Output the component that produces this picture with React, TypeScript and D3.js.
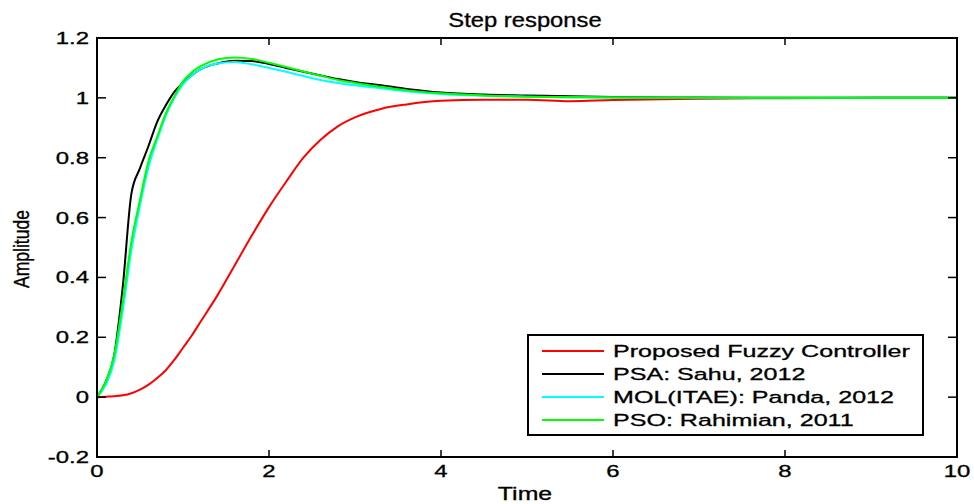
import React from "react";
import * as d3 from "d3";

// Sample times (s) shared by all responses
const times = [
  0, 0.1, 0.2, 0.3, 0.4, 0.5, 0.6, 0.7, 0.8, 0.9, 1.0, 1.1, 1.2, 1.4, 1.6, 1.8,
  2.0, 2.2, 2.4, 2.6, 2.8, 3.0, 3.3, 3.6, 4.0, 4.5, 5.0, 5.5, 6.0, 7.0, 8.0, 9.0, 10.0,
];

// Step responses of each controller
const fuzzy = [
  0, 0.001, 0.003, 0.006, 0.013, 0.025, 0.042, 0.064, 0.09, 0.125, 0.165, 0.205, 0.25, 0.34, 0.44, 0.54,
  0.635, 0.72, 0.8, 0.86, 0.905, 0.935, 0.963, 0.978, 0.99, 0.994, 0.994, 0.989, 0.993, 0.997, 0.999, 1.0, 1.0,
];
const psaSahu = [
  0, 0.05, 0.14, 0.37, 0.68, 0.765, 0.84, 0.92, 0.975, 1.02, 1.05, 1.075, 1.095, 1.115, 1.124, 1.123,
  1.113, 1.1, 1.087, 1.075, 1.063, 1.053, 1.042, 1.03, 1.018, 1.011, 1.008, 1.005, 1.003, 1.001, 1.0, 1.0, 1.0,
];
const molPanda = [
  0, 0.04, 0.12, 0.29, 0.49, 0.64, 0.77, 0.86, 0.94, 1.0, 1.045, 1.075, 1.095, 1.115, 1.12, 1.112,
  1.1, 1.087, 1.073, 1.06, 1.05, 1.042, 1.032, 1.022, 1.013, 1.007, 1.004, 1.002, 1.001, 1.0, 1.0, 1.0, 1.0,
];
const psoRahimian = [
  0, 0.05, 0.14, 0.32, 0.52, 0.66, 0.79, 0.87, 0.948, 1.005, 1.055, 1.085, 1.105, 1.128, 1.135, 1.13,
  1.117, 1.103, 1.088, 1.074, 1.06, 1.05, 1.037, 1.025, 1.015, 1.008, 1.004, 1.002, 1.001, 1.0, 1.0, 1.0, 1.0,
];

const seriesNames = [
  "Proposed Fuzzy Controller",
  "PSA: Sahu, 2012",
  "MOL(ITAE): Panda, 2012",
  "PSO: Rahimian, 2011",
];
const seriesColors = ["#ff0000", "#000000", "#00ffff", "#00ff00"];
const seriesValues = [fuzzy, psaSahu, molPanda, psoRahimian];

const xTicks = [0, 2, 4, 6, 8, 10];
const xTickLabels = ["0", "2", "4", "6", "8", "10"];
const yTicks = [-0.2, 0, 0.2, 0.4, 0.6, 0.8, 1.0, 1.2];
const yTickLabels = ["-0.2", "0", "0.2", "0.4", "0.6", "0.8", "1", "1.2"];

const W = 974;
const H = 504;
const plot = { left: 97, right: 957, top: 38, bottom: 457 };
const FONT = "'Liberation Sans', Arial, Helvetica, sans-serif";

// Text that is widened horizontally around its anchor point
function WideText(props: {
  x: number;
  y: number;
  sx: number;
  size: number;
  anchor?: "start" | "middle" | "end";
  rotate?: number;
  children: React.ReactNode;
}) {
  const { x, y, sx, size, anchor = "start", rotate = 0, children } = props;
  return (
    <text
      transform={`translate(${x},${y}) scale(${sx},1)${rotate ? ` rotate(${rotate})` : ""}`}
      textAnchor={anchor}
      fontFamily={FONT}
      fontSize={size}
      fill="#000"
      stroke="#000"
      strokeWidth={0.3}
    >
      {children}
    </text>
  );
}

export default function App() {
  const x = d3.scaleLinear().domain([0, 10]).range([plot.left, plot.right]);
  const y = d3.scaleLinear().domain([-0.2, 1.2]).range([plot.bottom, plot.top]);

  const line = d3
    .line<[number, number]>()
    .x((d) => x(d[0]))
    .y((d) => y(d[1]))
    .curve(d3.curveMonotoneX);

  const legend = { x0: 528, y0: 335, x1: 923, y1: 435, rows: [351, 374, 397, 420] };

  return (
    <svg
      width={W}
      height={H}
      viewBox={`0 0 ${W} ${H}`}
      style={{ position: "absolute", left: 0, top: 0, background: "#fff" }}
    >
      <rect x={0} y={0} width={W} height={H} fill="#fff" />

      {/* response curves */}
      <g fill="none" strokeWidth={2} strokeLinejoin="round">
        {seriesValues.map((vals, i) => (
          <path
            key={seriesNames[i]}
            d={line(times.map((t, k) => [t, vals[k]] as [number, number])) || ""}
            stroke={seriesColors[i]}
          />
        ))}
      </g>

      {/* axes box */}
      <rect
        x={plot.left}
        y={plot.top}
        width={plot.right - plot.left}
        height={plot.bottom - plot.top}
        fill="none"
        stroke="#000"
        strokeWidth={2}
      />

      {/* ticks, pointing inward on all four sides */}
      <g stroke="#000" strokeWidth={1.5}>
        {xTicks.map((t) => (
          <g key={"xt" + t}>
            <line x1={x(t)} x2={x(t)} y1={plot.bottom} y2={plot.bottom - 7} />
            <line x1={x(t)} x2={x(t)} y1={plot.top} y2={plot.top + 7} />
          </g>
        ))}
        {yTicks.map((v) => (
          <g key={"yt" + v}>
            <line x1={plot.left} x2={plot.left + 9} y1={y(v)} y2={y(v)} />
            <line x1={plot.right} x2={plot.right - 9} y1={y(v)} y2={y(v)} />
          </g>
        ))}
      </g>

      {/* tick labels */}
      {xTicks.map((t, i) => (
        <WideText key={"xl" + t} x={x(t)} y={477} sx={1.45} size={16.5} anchor="middle">
          {xTickLabels[i]}
        </WideText>
      ))}
      {yTicks.map((v, i) => (
        <WideText key={"yl" + v} x={89} y={y(v) + 6} sx={1.45} size={16.5} anchor="end">
          {yTickLabels[i]}
        </WideText>
      ))}

      {/* title and axis labels */}
      <WideText x={525} y={27} sx={1.22} size={19.5} anchor="middle">
        Step response
      </WideText>
      <WideText x={525} y={500} sx={1.38} size={18} anchor="middle">
        Time
      </WideText>
      <WideText x={29} y={249} sx={1.3} size={17.5} anchor="middle" rotate={-90}>
        Amplitude
      </WideText>

      {/* legend */}
      <rect
        x={legend.x0}
        y={legend.y0}
        width={legend.x1 - legend.x0}
        height={legend.y1 - legend.y0}
        fill="#fff"
        stroke="#000"
        strokeWidth={2}
      />
      {seriesNames.map((name, i) => (
        <g key={"lg" + name}>
          <line
            x1={542}
            x2={604}
            y1={legend.rows[i]}
            y2={legend.rows[i]}
            stroke={seriesColors[i]}
            strokeWidth={2}
          />
          <WideText x={613} y={legend.rows[i] + 6} sx={1.52} size={16.5}>
            {name}
          </WideText>
        </g>
      ))}
    </svg>
  );
}
